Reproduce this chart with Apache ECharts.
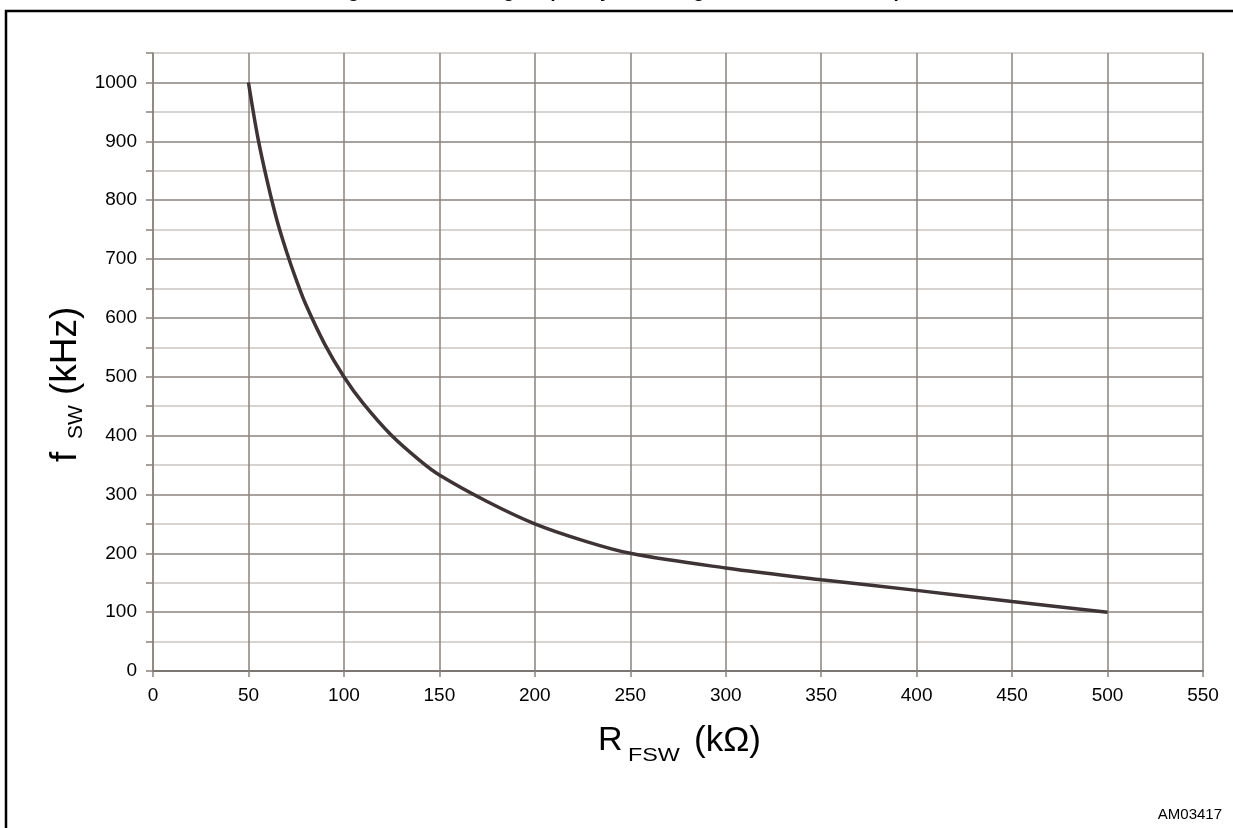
<!DOCTYPE html>
<html>
<head>
<meta charset="utf-8">
<script src="https://cdn.jsdelivr.net/npm/echarts@6/dist/echarts.min.js"></script>
<style>
html,body{margin:0;padding:0;background:#fff;overflow:hidden;}
#chart{width:1233px;height:828px;}
</style>
</head>
<body>
<div id="chart"></div>
<script>
// Data
const rfsw = [50, 55, 60, 65, 70, 75, 80, 90, 100, 110, 125, 140, 150, 175, 200, 225, 250, 300, 350, 400, 450, 500];
const fsw  = [1000, 905, 830, 765, 712, 665, 623, 555, 500, 455, 400, 357, 333, 288, 250, 222, 200, 175, 155, 137, 118, 100];
const xTicks = [0, 50, 100, 150, 200, 250, 300, 350, 400, 450, 500, 550];
const yTicks = [0, 100, 200, 300, 400, 500, 600, 700, 800, 900, 1000];
const titleText = 'Figure 11. Switching frequency vs setting resistor at room temp';
const footerText = 'AM03417';

const FONT = 'Arial, "Liberation Sans", sans-serif';
const majorGrid = '#8a837d';
const minorGrid = '#c9c5c1';

const chart = echarts.init(document.getElementById('chart'), null, {renderer: 'canvas'});
const points = rfsw.map((r, i) => [r, fsw[i]]);

chart.setOption({
  animation: false,
  backgroundColor: '#fff',
  grid: {left: 153, right: 30, top: 53, bottom: 157, containLabel: false},
  xAxis: {
    type: 'value', min: xTicks[0], max: xTicks[xTicks.length - 1], interval: 50,
    axisLine: {show: true, lineStyle: {color: '#7d7670', width: 2}},
    axisTick: {show: true, length: 6, lineStyle: {color: majorGrid, width: 1.5}},
    axisLabel: {fontSize: 19, color: '#000', fontFamily: FONT, margin: 15},
    splitLine: {show: true, showMinLine: true, showMaxLine: true, lineStyle: {color: majorGrid, width: 1.5}}
  },
  yAxis: {
    type: 'value', min: yTicks[0], max: 1050, interval: 50,
    axisLine: {show: true, lineStyle: {color: majorGrid, width: 1.5}},
    axisTick: {show: true, length: 7, lineStyle: {color: majorGrid, width: 1.5}},
    axisLabel: {fontSize: 19, color: '#000', fontFamily: FONT, margin: 16,
      formatter: v => (yTicks.indexOf(v) >= 0 ? String(v) : '')},
    splitLine: {show: true, showMinLine: true, showMaxLine: true, lineStyle: {color: [majorGrid, minorGrid], width: 1.5}}
  },
  series: [{
    type: 'line', data: points, smooth: 0.35, symbol: 'none',
    lineStyle: {color: '#3e3436', width: 3.5}
  }],
  graphic: [
    {type: 'polyline', shape: {points: [[6, 900], [6, 11], [1300, 11]]},
     style: {fill: null, stroke: '#000', lineWidth: 2.5}, silent: true},
    {type: 'text', x: 618, y: -8.5,
     style: {text: titleText, font: 'bold 19px ' + FONT, fill: '#000', textAlign: 'center', textVerticalAlign: 'middle'}},
    {type: 'group', x: 598, y: 741, children: [
      {type: 'text', x: 0, y: 0, style: {text: 'R', font: '34px ' + FONT, fill: '#000', textAlign: 'left', textVerticalAlign: 'middle'}},
      {type: 'text', x: 30, y: 15, scaleX: 1.23, style: {text: 'FSW', font: '19px ' + FONT, fill: '#000', textAlign: 'left', textVerticalAlign: 'middle'}},
      {type: 'text', x: 96, y: 0, style: {text: '(kΩ)', font: '35px ' + FONT, fill: '#000', textAlign: 'left', textVerticalAlign: 'middle'}}
    ]},
    {type: 'group', x: 66, y: 462, rotation: Math.PI / 2, children: [
      {type: 'text', x: 0, y: 0, style: {text: 'f', font: '37px ' + FONT, fill: '#000', textAlign: 'left', textVerticalAlign: 'middle'}},
      {type: 'text', x: 23, y: 10, style: {text: 'SW', font: '21px ' + FONT, fill: '#000', textAlign: 'left', textVerticalAlign: 'middle'}},
      {type: 'text', x: 67, y: 0, style: {text: '(kHz)', font: '37px ' + FONT, fill: '#000', textAlign: 'left', textVerticalAlign: 'middle'}}
    ]},
    {type: 'text', x: 1222, y: 815,
     style: {text: footerText, font: '15px ' + FONT, fill: '#000', textAlign: 'right', textVerticalAlign: 'middle'}}
  ]
});
</script>
</body>
</html>
